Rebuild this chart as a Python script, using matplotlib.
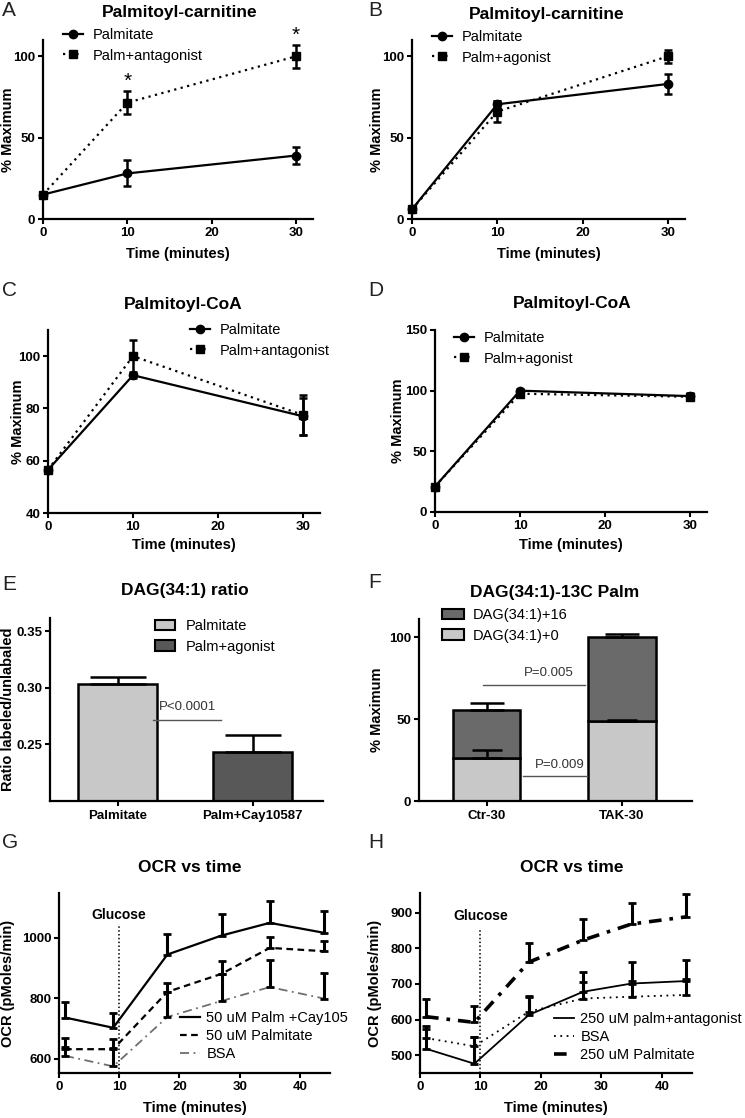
import numpy as np
import matplotlib
matplotlib.use('Agg')
import matplotlib.pyplot as plt
from matplotlib.patches import Patch
from matplotlib.lines import Line2D

plt.rcParams['font.family'] = ['Liberation Sans', 'DejaVu Sans']
plt.rcParams['font.weight'] = 'bold'
plt.rcParams['axes.labelweight'] = 'bold'

# ---------------- data ----------------
time_min = [0, 10, 30]
A_palmitate = [15, 28, 39]
A_palmitate_err = [0, 8, 5]
A_antagonist = [15, 71.5, 100]
A_antagonist_err = [0, 7, 7]
A_star_marks = ['', '*', '*']

B_palmitate = [6, 70.5, 83]
B_palmitate_err = [0, 2, 6]
B_agonist = [6, 66, 100]
B_agonist_err = [0, 6.5, 4]

C_palmitate = [56.5, 92.7, 77]
C_palmitate_err = [0, 1, 7]
C_antagonist = [56.5, 100, 77.5]
C_antagonist_err = [0, 6, 7.5]

D_palmitate = [21, 100, 95.5]
D_palmitate_err = [0, 1, 2]
D_agonist = [21, 97.5, 95]
D_agonist_err = [0, 1, 3]

E_groups = ['Palmitate', 'Palm+Cay10587']
E_ratio = [0.303, 0.2435]
E_ratio_err = [0.0065, 0.0145]
E_legend = ['Palmitate', 'Palm+agonist']

F_groups = ['Ctr-30', 'TAK-30']
F_plus0 = [26.5, 48.6]
F_plus0_err = [4.3, 0.6]
F_plus16 = [29.0, 51.4]
F_total_err = [4.4, 2.0]

ocr_time = [1, 9, 18, 27, 35, 44]
G_cay = [736, 702, 945, 1008, 1050, 1017]
G_cay_err = [51, 50, 68, 72, 73, 71]
G_palm = [631, 631, 821, 881, 967, 956]
G_palm_err = [36, 33, 28, 42, 36, 33]
G_bsa = [609, 574, 738, 791, 837, 799]
G_bsa_err = [30, 60, 83, 90, 91, 85]

H_antag = [518, 476, 613, 678, 701, 708]
H_antag_err = [63, 74, 54, 55, 60, 60]
H_bsa = [548, 525, 622, 659, 664, 669]
H_bsa_err = [25, 25, 40, 45, 45, 45]
H_palm = [608, 592, 761, 823, 868, 888]
H_palm_err = [49, 46, 54, 60, 60, 63]

glucose_time = 10

# ---------------- figure ----------------
W, H = 745, 1118
fig = plt.figure(figsize=(W / 100, H / 100), dpi=100)


def add_ax(left, right, top, bottom):
    return fig.add_axes([left / W, 1 - bottom / H, (right - left) / W, (bottom - top) / H])


def style(ax):
    for s in ['top', 'right']:
        ax.spines[s].set_visible(False)
    for s in ['left', 'bottom']:
        ax.spines[s].set_linewidth(1.6)
    ax.tick_params(direction='out', length=3.5, width=1.5, labelsize=9.5, pad=2)


def noclip(cont):
    for a in cont.get_children():
        a.set_clip_on(False)


def ftext(x, y, s, **kw):
    fig.text(x / W, 1 - y / H, s, **kw)


def leg(ax, handles, labels, x, ytop, **kw):
    opts = dict(loc='upper left', bbox_to_anchor=(x / W, 1 - ytop / H),
                bbox_transform=fig.transFigure, frameon=False, borderpad=0,
                borderaxespad=0, prop={'weight': 'normal', 'size': 10.5},
                handlelength=1.35, handletextpad=0.7, labelspacing=0.45)
    opts.update(kw)
    ax.legend(handles, labels, **opts)


dot = (0, (1, 2))
lw = 1.6


def timecourse(ax, y1, e1, y2, e2, lab2, ylim, yticks, legxy):
    c1 = ax.errorbar(time_min, y1, yerr=e1, color='k', lw=lw, ls='-', marker='o', ms=6,
                     capsize=3, capthick=1.8, elinewidth=1.8)
    c2 = ax.errorbar(time_min, y2, yerr=e2, color='k', lw=lw, ls=dot, marker='s', ms=6,
                     capsize=3, capthick=1.8, elinewidth=1.8)
    noclip(c1)
    noclip(c2)
    ax.set_xlim(0, 32)
    ax.set_ylim(*ylim)
    ax.set_xticks([0, 10, 20, 30])
    ax.set_yticks(yticks)
    style(ax)
    ax.set_xlabel('Time (minutes)', fontsize=10.5)
    ax.set_ylabel('% Maximum', fontsize=10.5)
    h = [Line2D([], [], color='k', lw=lw, marker='o', ms=6),
         Line2D([], [], color='k', lw=lw, ls=dot, marker='s', ms=6)]
    leg(ax, h, ['Palmitate', lab2], *legxy)


# Panel A
axA = add_ax(43, 313, 40, 219)
timecourse(axA, A_palmitate, A_palmitate_err, A_antagonist, A_antagonist_err,
           'Palm+antagonist', (0, 110), [0, 50, 100], (63, 28))
for t, v, e, m in zip(time_min, A_antagonist, A_antagonist_err, A_star_marks):
    if m:
        axA.text(t, v + e + 6, m, ha='center', va='center', fontsize=15,
                 fontweight='normal', clip_on=False)
axA.xaxis.set_label_coords(0.5, -0.155)
axA.yaxis.set_label_coords((15 - 43) / 270, 0.5)

# Panel B
axB = add_ax(412, 685, 40, 219)
timecourse(axB, B_palmitate, B_palmitate_err, B_agonist, B_agonist_err,
           'Palm+agonist', (0, 110), [0, 50, 100], (432, 30))
axB.xaxis.set_label_coords(0.5, -0.155)
axB.yaxis.set_label_coords((384 - 412) / 273, 0.5)

# Panel C
axC = add_ax(48, 320, 330, 513)
timecourse(axC, C_palmitate, C_palmitate_err, C_antagonist, C_antagonist_err,
           'Palm+antagonist', (40, 110), [40, 60, 80, 100], (190, 323))
axC.xaxis.set_label_coords(0.5, -0.139)
axC.yaxis.set_label_coords((25 - 48) / 272, 0.5)

# Panel D
axD = add_ax(435, 707, 330, 512)
timecourse(axD, D_palmitate, D_palmitate_err, D_agonist, D_agonist_err,
           'Palm+agonist', (0, 150), [0, 50, 100, 150], (454, 331))
axD.xaxis.set_label_coords(0.5, -0.145)
axD.yaxis.set_label_coords((405 - 435) / 272, 0.5)

# Panel E
light = '#c8c8c8'
darkE = '#585858'
axE = add_ax(50, 323, 618, 801)
xe = np.arange(len(E_groups))
axE.bar(xe, E_ratio, width=0.585, color=[light, darkE], edgecolor='k', linewidth=1.8, zorder=2)
axE.errorbar(xe, E_ratio, yerr=[np.zeros(len(xe)), E_ratio_err], fmt='none', ecolor='k',
             elinewidth=1.8, capsize=20, capthick=1.8, zorder=3)
axE.set_xlim(-0.5, 1.52)
axE.set_ylim(0.20, 0.3615)
axE.set_yticks([0.25, 0.30, 0.35])
axE.set_xticks(xe)
axE.set_xticklabels(E_groups)
style(axE)
axE.tick_params(axis='x', labelsize=9.5, pad=3)
axE.set_ylabel('Ratio labeled/unlabaled', fontsize=10.5)
axE.yaxis.set_label_coords((15 - 50) / 273, 0.5)
axE.plot([0.26, 0.763], [0.2713, 0.2713], color='#555555', lw=1.0, zorder=4)
axE.text(0.515, 0.2832, 'P<0.0001', ha='center', va='center', fontsize=9.5,
         fontweight='normal', color='#333333')
hE = [Patch(facecolor=light, edgecolor='k', linewidth=1.5),
      Patch(facecolor=darkE, edgecolor='k', linewidth=1.5)]
leg(axE, hE, E_legend, 155, 619, handlelength=1.4, handleheight=0.7)

# Panel F
darkF = '#6a6a6a'
axF = add_ax(419, 692, 619, 801)
xf = np.arange(len(F_groups))
F_total = np.array(F_plus0) + np.array(F_plus16)
axF.bar(xf, F_plus0, width=0.5, color=light, edgecolor='k', linewidth=1.8, zorder=2)
axF.bar(xf, F_plus16, bottom=F_plus0, width=0.5, color=darkF, edgecolor='k', linewidth=1.8, zorder=2)
axF.errorbar(xf, F_plus0, yerr=[np.zeros(2), F_plus0_err], fmt='none', ecolor='k',
             elinewidth=1.8, capsize=11, capthick=1.8, zorder=3)
axF.errorbar(xf, F_total, yerr=[np.zeros(2), F_total_err], fmt='none', ecolor='k',
             elinewidth=1.8, capsize=12, capthick=1.8, zorder=3)
axF.set_xlim(-0.5, 1.52)
axF.set_ylim(0, 111)
axF.set_yticks([0, 50, 100])
axF.set_xticks(xf)
axF.set_xticklabels(F_groups)
style(axF)
axF.tick_params(axis='x', labelsize=9.5, pad=3)
axF.set_ylabel('% Maximum', fontsize=10.5)
axF.yaxis.set_label_coords((384 - 419) / 273, 0.5)
axF.plot([-0.03, 0.726], [71, 71], color='#555555', lw=1.0, zorder=4)
axF.text(0.457, 78.3, 'P=0.005', ha='center', va='center', fontsize=9.5,
         fontweight='normal', color='#333333')
axF.plot([0.272, 0.741], [15.2, 15.2], color='#555555', lw=1.0, zorder=4)
axF.text(0.543, 21.7, 'P=0.009', ha='center', va='center', fontsize=9.5,
         fontweight='normal', color='#333333')
hF = [Patch(facecolor=darkF, edgecolor='k', linewidth=1.5),
      Patch(facecolor=light, edgecolor='k', linewidth=1.5)]
leg(axF, hF, ['DAG(34:1)+16', 'DAG(34:1)+0'], 442, 608, handlelength=1.5, handleheight=0.7,
    handletextpad=0.6)


def ocr(ax, series, ylim, yticks, gl_top, gl_text_y, legx, legtop, labels):
    hs = []
    for y, e, ls, c, w in series:
        ax.plot(ocr_time, y, color=c, ls=ls, lw=w, zorder=2)
        cont = ax.errorbar(ocr_time, y, yerr=[np.zeros(len(y)), e], fmt='none', ecolor='k',
                           elinewidth=2.2, capsize=3, capthick=2, zorder=3)
        noclip(cont)
        hs.append(Line2D([], [], color=c, ls=ls, lw=w))
    ax.plot([glucose_time, glucose_time], [ylim[0], gl_top], color='k', ls=(0, (1, 1.5)), lw=1.1)
    ax.text(glucose_time, gl_text_y, 'Glucose', ha='center', va='center', fontsize=10)
    ax.set_xlim(0, 45)
    ax.set_ylim(*ylim)
    ax.set_xticks([0, 10, 20, 30, 40])
    ax.set_yticks(yticks)
    style(ax)
    ax.set_xlabel('Time (minutes)', fontsize=10.5)
    ax.set_ylabel('OCR (pMoles/min)', fontsize=10.5)
    ax.xaxis.set_label_coords(0.5, -0.153)
    leg(ax, hs, labels, legx, legtop, handlelength=1.4, handletextpad=0.4, labelspacing=0.27)


axG = add_ax(59, 330, 893, 1073)
ocr(axG, [(G_cay, G_cay_err, '-', 'k', 1.6),
          (G_palm, G_palm_err, (0, (3, 2)), 'k', 1.6),
          (G_bsa, G_bsa_err, (0, (5, 2.5, 1, 2.5)), '#6e6e6e', 1.3)],
    (552, 1149), [600, 800, 1000], 1046, 1077, 180, 1011,
    ['50 uM Palm +Cay105', '50 uM Palmitate', 'BSA'])
axG.yaxis.set_label_coords((15 - 59) / 271, 0.5)

axH = add_ax(420, 692, 893, 1073)
ocr(axH, [(H_antag, H_antag_err, '-', 'k', 1.3),
          (H_bsa, H_bsa_err, (0, (1, 2.5)), 'k', 1.3),
          (H_palm, H_palm_err, (0, (3.5, 2.2, 1, 2.2)), 'k', 2.6)],
    (450, 955), [500, 600, 700, 800, 900], 855, 891, 554, 1012,
    ['250 uM palm+antagonist', 'BSA', '250 uM Palmitate'])
axH.yaxis.set_label_coords((382 - 420) / 272, 0.5)

# titles
titles = [('Palmitoyl-carnitine', 180, 12), ('Palmitoyl-carnitine', 547, 14),
          ('Palmitoyl-CoA', 183, 305), ('Palmitoyl-CoA', 572, 303),
          ('DAG(34:1) ratio', 185, 590), ('DAG(34:1)-13C Palm', 555, 592),
          ('OCR vs time', 190, 867), ('OCR vs time', 572, 867)]
for s, x, y in titles:
    ftext(x, y, s, ha='center', va='center', fontsize=12.5, fontweight='bold')

letters = [('A', 2, 11), ('B', 368, 11), ('C', 2, 290), ('D', 368, 290),
           ('E', 2, 584), ('F', 368, 582), ('G', 2, 843), ('H', 368, 843)]
for s, x, y in letters:
    ftext(x, y, s, ha='left', va='center', fontsize=15, fontweight='light', color='#222222')

fig.savefig('out.png', dpi=100)
